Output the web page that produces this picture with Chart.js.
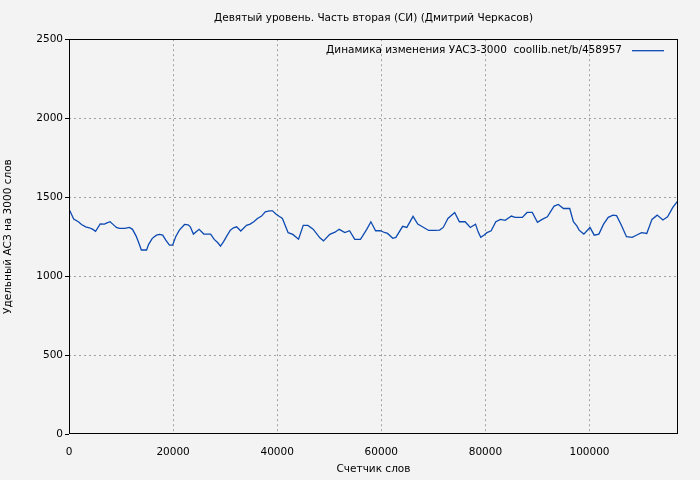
<!DOCTYPE html>
<html>
<head>
<meta charset="utf-8">
<script src="https://cdn.jsdelivr.net/npm/chart.js@4"></script>
<style>
  html, body { margin: 0; padding: 0; background: #f3f3f3; }
  #wrap { width: 700px; height: 480px; }
</style>
</head>
<body>
<div id="wrap"><canvas id="uasChart" width="700" height="480"></canvas></div>
<script>
/* ---------- DATA ---------- */
const chartTitle = "Девятый уровень. Часть вторая (СИ) (Дмитрий Черкасов)";
const legendText = "Динамика изменения УАСЗ-3000  coollib.net/b/458957";
const xTitle = "Счетчик слов";
const yTitle = "Удельный АСЗ на 3000 слов";

const wordCounts = [
  0, 900, 1800, 2400, 3200, 3900, 4500, 5100, 6000, 6800,
  7300, 7900, 8400, 9100, 9700, 10700, 11600, 12200, 12900, 13400,
  13900, 14900, 15300, 16000, 16800, 17400, 18000, 18600, 19300, 19900,
  20500, 21200, 22200, 22900, 23300, 23900, 25000, 25900, 27200, 27900,
  28600, 29100, 29700, 30300, 31000, 31600, 32200, 33000, 34100, 34800,
  35500, 36200, 37000, 37700, 38500, 39100, 39800, 40300, 41000, 42100,
  43000, 44100, 45000, 45900, 46900, 48200, 48900, 50100, 51100, 51900,
  53000, 53900, 54900, 56000, 57200, 58000, 58900, 59800, 60600, 61200,
  62200, 62800, 64100, 64900, 66100, 67000, 67900, 69100, 70200, 71200,
  71900, 72800, 74100, 75000, 76100, 77100, 78100, 78600, 79100, 79700,
  80300, 81100, 82000, 82900, 83800, 85000, 85700, 87100, 88000, 89000,
  90000, 90900, 91900, 92700, 93200, 94000, 95000, 96200, 96900, 97600,
  98000, 98900, 100100, 100900, 101800, 102700, 103600, 104500, 105200, 106100,
  107100, 108200, 108900, 110000, 111000, 112000, 113000, 114100, 115000, 116000,
  117000
];

const uasValues = [
  1425, 1361, 1344, 1327, 1312, 1306, 1297, 1283, 1331, 1329,
  1337, 1344, 1329, 1308, 1302, 1302, 1308, 1296, 1253, 1211,
  1165, 1165, 1201, 1239, 1259, 1264, 1259, 1228, 1196, 1196,
  1249, 1291, 1327, 1325, 1312, 1266, 1296, 1266, 1266, 1232,
  1211, 1190, 1218, 1253, 1291, 1306, 1312, 1285, 1321, 1329,
  1344, 1365, 1380, 1407, 1413, 1413, 1392, 1380, 1365, 1275,
  1264, 1234, 1321, 1321, 1297, 1242, 1223, 1264, 1278, 1296,
  1275, 1287, 1232, 1232, 1296, 1344, 1287, 1287, 1276, 1270,
  1239, 1245, 1315, 1308, 1378, 1329, 1312, 1289, 1289, 1291,
  1308, 1365, 1403, 1344, 1344, 1308, 1329, 1280, 1245, 1259,
  1275, 1287, 1344, 1359, 1353, 1380, 1372, 1372, 1403, 1403,
  1340, 1359, 1375, 1418, 1443, 1454, 1428, 1428, 1344, 1316,
  1291, 1266, 1308, 1259, 1266, 1329, 1372, 1386, 1383, 1323,
  1249, 1245, 1257, 1275, 1270, 1359, 1386, 1355, 1375, 1435,
  1477
];

const xTickValues = [0, 20000, 40000, 60000, 80000, 100000];
const yTickValues = [0, 500, 1000, 1500, 2000, 2500];
const X_MAX = 117000;
const Y_MAX = 2500;

/* ---------- STYLE ---------- */
const FONT = "'DejaVu Sans', sans-serif";
const FONT_SIZE = 10.5;
const LINE_COLOR = "#0c4ab2";
const GRID_COLOR = "#a0a0a0";

/* ---------- PLUGINS ---------- */
const backgroundPlugin = {
  id: "bg",
  beforeDraw(chart) {
    const c = chart.ctx;
    c.save();
    c.fillStyle = "#f3f3f3";
    c.fillRect(0, 0, chart.width, chart.height);
    c.restore();
  }
};

const frameAndLegendPlugin = {
  id: "frameLegend",
  afterDraw(chart) {
    const c = chart.ctx;
    const a = chart.chartArea;
    c.save();
    // plot frame
    c.strokeStyle = "#000";
    c.lineWidth = 1;
    c.strokeRect(Math.round(a.left) + 0.5, Math.round(a.top) + 0.5,
      Math.round(a.right - a.left) - 1, Math.round(a.bottom - a.top) - 1);

    // legend, top right inside the plot
    const ly = a.top + 11;
    const lineEnd = a.right - 14;
    const lineStart = lineEnd - 32;
    c.font = FONT_SIZE + "px " + FONT;
    c.fillStyle = "#000";
    c.textAlign = "right";
    c.textBaseline = "middle";
    c.fillText(legendText, lineStart - 10, ly);
    c.strokeStyle = LINE_COLOR;
    c.lineWidth = 1.3;
    c.beginPath();
    c.moveTo(lineStart, ly + 0.5);
    c.lineTo(lineEnd, ly + 0.5);
    c.stroke();
    c.restore();
  }
};

/* ---------- CHART ---------- */
const points = wordCounts.map((w, i) => ({ x: w, y: uasValues[i] }));
const ctx = document.getElementById("uasChart").getContext("2d");

new Chart(ctx, {
  type: "line",
  data: {
    datasets: [{
      label: legendText,
      data: points,
      borderColor: LINE_COLOR,
      borderWidth: 1.3,
      pointRadius: 0,
      tension: 0,
      fill: false
    }]
  },
  options: {
    responsive: false,
    animation: false,
    layout: { padding: { top: 0, right: 22, bottom: 0, left: 0 } },
    plugins: {
      legend: { display: false },
      tooltip: { enabled: false },
      title: {
        display: true,
        text: chartTitle,
        fullSize: false,
        color: "#000",
        font: { family: FONT, size: FONT_SIZE, weight: "normal" },
        padding: { top: 12, bottom: 14.6 }
      }
    },
    scales: {
      x: {
        type: "linear",
        min: 0,
        max: X_MAX,
        afterBuildTicks: s => { s.ticks = xTickValues.map(v => ({ value: v })); },
        afterFit: s => { s.height = 46; },
        border: { display: false, dash: [2, 3] },
        grid: {
          color: c => (c.tick.value === 0 ? "rgba(0,0,0,0)" : GRID_COLOR),
          drawTicks: false,
          tickLength: 0
        },
        ticks: {
          color: "#000",
          font: { family: FONT, size: FONT_SIZE },
          padding: 12,
          maxRotation: 0,
          callback: v => String(v)
        },
        title: {
          display: true,
          text: xTitle,
          color: "#000",
          font: { family: FONT, size: FONT_SIZE },
          padding: { top: 0, bottom: 4 }
        }
      },
      y: {
        min: 0,
        max: Y_MAX,
        afterBuildTicks: s => { s.ticks = yTickValues.map(v => ({ value: v })); },
        afterFit: s => { s.width = 69; },
        border: { display: false, dash: [2, 3] },
        grid: {
          color: c => (c.tick.value === 0 || c.tick.value === Y_MAX ? "rgba(0,0,0,0)" : GRID_COLOR),
          tickColor: "#000",
          tickBorderDash: [],
          drawTicks: true,
          tickLength: 4
        },
        ticks: {
          color: "#000",
          font: { family: FONT, size: FONT_SIZE },
          padding: 2,
          callback: v => String(v)
        },
        title: {
          display: true,
          text: yTitle,
          color: "#000",
          font: { family: FONT, size: FONT_SIZE },
          padding: { top: 2, bottom: 0 }
        }
      }
    }
  },
  plugins: [backgroundPlugin, frameAndLegendPlugin]
});
</script>
</body>
</html>
